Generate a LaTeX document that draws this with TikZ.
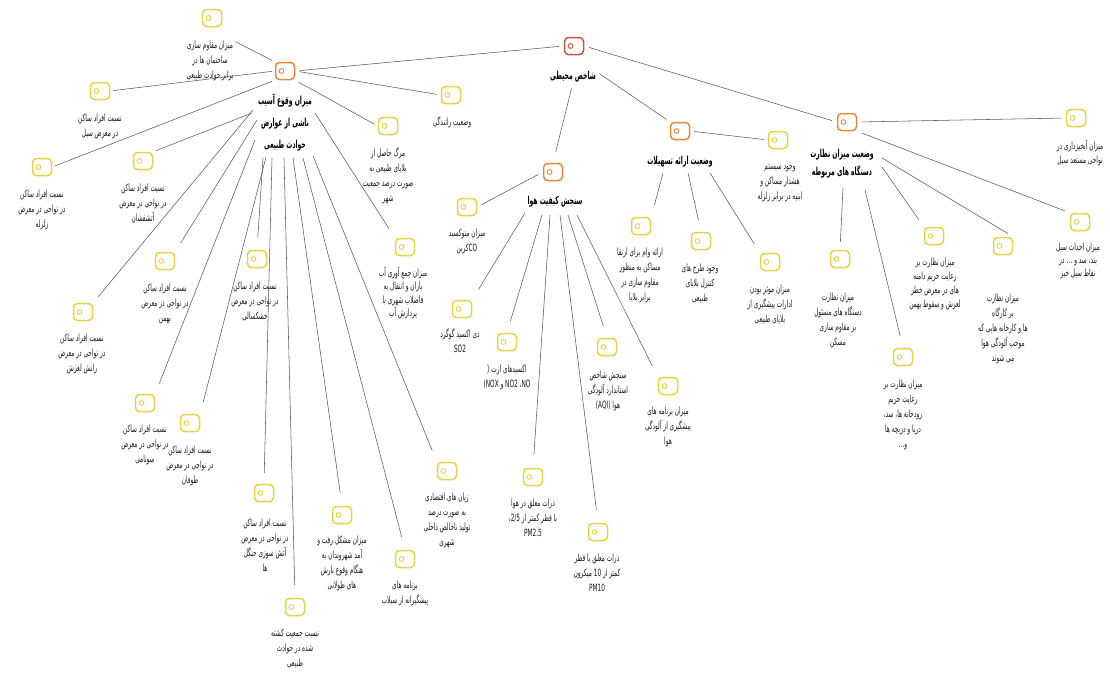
\documentclass[tikz,border=0pt]{standalone}
\usepackage{fontspec}
\usetikzlibrary{calc}
\TeXXeTstate=1
\newfontfamily\fa[Script=Arabic,FakeStretch=0.58]{DejaVu Sans}
\newfontfamily\fab[Script=Arabic,FakeStretch=0.55]{DejaVu Sans Bold}
\newcommand\fal[1]{\beginR #1\endR}
\definecolor{leafc}{HTML}{E6D24A}
\definecolor{midc}{HTML}{E2893C}
\definecolor{rootc}{HTML}{C95646}
\definecolor{linec}{HTML}{5A5A5A}
\definecolor{txtc}{HTML}{1A1A1A}
\tikzset{
  icon/.style={draw=#1, line width=1.5pt, rounded corners=4pt, minimum width=19pt, minimum height=17pt, inner sep=0pt,
    path picture={\draw[#1, line width=0.9pt] ([xshift=6pt]path picture bounding box.west) circle (2.4pt);}},
  leaf/.style={icon=leafc},
  mid/.style={icon=midc},
  top/.style={icon=rootc},
  txt/.style={font=\fa\fontsize{10}{15}\selectfont, align=center, inner sep=0pt, text=txtc},
  head/.style={font=\fab\fontsize{11}{22}\selectfont, align=center, inner sep=0pt, text=black},
  con/.style={draw=linec, line width=0.55pt},
}
\begin{document}
\begin{tikzpicture}[x=1pt,y=-1pt]
\fill[white] (0,0) rectangle (1110,672);
\useasboundingbox (0,0) rectangle (1110,672);

% ---- icons ----
\node[top] (root) at (574,46) {};
\node[mid] (A) at (285,71) {};
\node[mid] (B) at (680,131) {};
\node[mid] (C) at (847,122) {};
\node[mid] (D) at (553,172) {};
\node[leaf] (a1) at (212,18) {};
\node[leaf] (a2) at (100,91) {};
\node[leaf] (a3) at (42,167) {};
\node[leaf] (a4) at (143,161) {};
\node[leaf] (a5) at (165,261) {};
\node[leaf] (a6) at (83,312) {};
\node[leaf] (a7) at (257,259) {};
\node[leaf] (a8) at (145,403) {};
\node[leaf] (a9) at (190,423) {};
\node[leaf] (a10) at (264,493) {};
\node[leaf] (a11) at (295,607) {};
\node[leaf] (a12) at (342,515) {};
\node[leaf] (a13) at (405,559) {};
\node[leaf] (a14) at (447,471) {};
\node[leaf] (a15) at (405,247) {};
\node[leaf] (a16) at (388,126) {};
\node[leaf] (a17) at (451,95) {};
\node[leaf] (d1) at (467,207) {};
\node[leaf] (d2) at (462,309) {};
\node[leaf] (d3) at (507,342) {};
\node[leaf] (d4) at (533,477) {};
\node[leaf] (d5) at (598,532) {};
\node[leaf] (d6) at (607,347) {};
\node[leaf] (d7) at (668,386) {};
\node[leaf] (b1) at (778,140) {};
\node[leaf] (b2) at (641,226) {};
\node[leaf] (b3) at (701,241) {};
\node[leaf] (b4) at (770,262) {};
\node[leaf] (c1) at (1076,118) {};
\node[leaf] (c2) at (1080,222) {};
\node[leaf] (c3) at (1003,246) {};
\node[leaf] (c4) at (934,236) {};
\node[leaf] (c5) at (840,259) {};
\node[leaf] (c6) at (903,357) {};

% ---- headings ----
\node[head] (rootT) at (573,77) {\fal{شاخص محیطی}};
\node[head] (At) at (285,122.5) {\fal{میزان وقوع آسیب}\\\fal{ناشی از عوارض}\\\fal{حوادث طبیعی}};
\node[head] (Bt) at (680,162) {\fal{وضعیت ارائه تسهیلات}};
\node[head, font=\fab\fontsize{11}{18}\selectfont] (Ct) at (842,164) {\fal{وضعیت میزان نظارت}\\\fal{دستگاه های مربوطه}};
\node[head] (Dt) at (555,202) {\fal{سنجش کیفیت هوا}};

% ---- leaf texts ----
\node[txt] (a1t) at (210,61) {\fal{میزان مقاوم سازی}\\\fal{ساختمان ها در}\\\fal{برابر حوادث طبیعی}};
\node[txt] (a2t) at (100,126) {\fal{نسبت افراد ساکن}\\\fal{در معرض سیل}};
\node[txt] (a3t) at (42,210) {\fal{نسبت افراد ساکن}\\\fal{در نواحی در معرض}\\\fal{زلزله}};
\node[txt] (a4t) at (143,204) {\fal{نسبت افراد ساکن}\\\fal{در نواحی در معرض}\\\fal{آتشفشان}};
\node[txt] (a5t) at (165,304) {\fal{نسبت افراد ساکن}\\\fal{در نواحی در معرض}\\\fal{بهمن}};
\node[txt] (a6t) at (82,354) {\fal{نسبت افراد ساکن}\\\fal{در نواحی در معرض}\\\fal{رانش لغزش}};
\node[txt] (a7t) at (255,301) {\fal{نسبت افراد ساکن}\\\fal{در نواحی در معرض}\\\fal{خشکسالی}};
\node[txt] (a8t) at (145,445) {\fal{نسبت افراد ساکن}\\\fal{در نواحی در معرض}\\\fal{سونامی}};
\node[txt] (a9t) at (190,466) {\fal{نسبت افراد ساکن}\\\fal{در نواحی در معرض}\\\fal{طوفان}};
\node[txt] (a10t) at (265,545) {\fal{نسبت افراد ساکن}\\\fal{در نواحی در معرض}\\\fal{آتش سوزی جنگل}\\\fal{ها}};
\node[txt] (a11t) at (295,648) {\fal{نسبت جمعیت کشته}\\\fal{شده در حوادث}\\\fal{طبیعی}};
\node[txt] (a12t) at (342,563) {\fal{میزان مشکل رفت و}\\\fal{آمد شهروندان به}\\\fal{هنگام وقوع بارش}\\\fal{های طولانی}};
\node[txt] (a13t) at (405,593) {\fal{برنامه های}\\\fal{پیشگیرانه از سیلاب}};
\node[txt] (a14t) at (447,520) {\fal{زیان های اقتصادی}\\\fal{به صورت درصد}\\\fal{تولید ناخالص داخلی}\\\fal{شهری}};
\node[txt, font=\fa\fontsize{10}{13.5}\selectfont] (a15t) at (403,293) {\fal{میزان جمع آوری آب}\\\fal{باران و انتقال به}\\\fal{فاضلاب شهری با}\\\fal{پردازش آب}};
\node[txt] (a16t) at (388,176) {\fal{مرگ حاصل از}\\\fal{بلایای طبیعی به}\\\fal{صورت درصد جمعیت}\\\fal{شهر}};
\node[txt] (a17t) at (452,122) {\fal{وضعیت رانندگی}};

\node[txt] (d1t) at (467,241) {\fal{میزان منوکسید}\\\fal{\beginL CO\endL کربن}};
\node[txt] (d2t) at (460,341) {\fal{دی اکسید گوگرد}\\SO2};
\node[txt] (d3t) at (507,377) {\fal{اکسیدهای ازت (}\\\fal{\beginL NO\endL، \beginL NO2\endL{} و \beginL NOX\endL)}};
\node[txt] (d4t) at (533,518) {\fal{ذرات معلق در هوا}\\\fal{با قطر کمتر از \beginL 2/5\endL،}\\PM2.5};
\node[txt] (d5t) at (597,573) {\fal{ذرات معلق با قطر}\\\fal{کمتر از \beginL 10\endL{} میکرون}\\PM10};
\node[txt] (d6t) at (608,391) {\fal{سنجش شاخص}\\\fal{استاندارد آلودگی}\\\fal{هوا (\beginL AQI\endL)}};
\node[txt] (d7t) at (668,427) {\fal{میزان برنامه های}\\\fal{پیشگیری از آلودگی}\\\fal{هوا}};

\node[txt] (b1t) at (780,183) {\fal{وجود سیستم}\\\fal{هشدار مساکن و}\\\fal{ابنیه در برابر زلزله}};
\node[txt] (b2t) at (640,275) {\fal{ارائه وام برای ارتقا}\\\fal{مساکن به منظور}\\\fal{مقاوم سازی در}\\\fal{برابر بلایا}};
\node[txt] (b3t) at (700,283) {\fal{وجود طرح های}\\\fal{کنترل بلایای}\\\fal{طبیعی}};
\node[txt] (b4t) at (770,304) {\fal{میزان موثر بودن}\\\fal{ادارات پیشگیری از}\\\fal{بلایای طبیعی}};

\node[txt, font=\fa\fontsize{10}{13.5}\selectfont] (c1t) at (1080,153) {\fal{میزان آبخیزداری در}\\\fal{نواحی مستعد سیل}};
\node[txt, font=\fa\fontsize{10}{13}\selectfont] (c2t) at (1078,261) {\fal{میزان احداث سیل}\\\fal{بند، سد و ... در}\\\fal{نقاط سیل خیز}};
\node[txt] (c3t) at (1003,329) {\fal{میزان نظارت}\\\fal{بر کارگاه}\\\fal{ها و کارخانه هایی که}\\\fal{موجب آلودگی هوا}\\\fal{می شوند}};
\node[txt, font=\fa\fontsize{10}{14}\selectfont] (c4t) at (935,284) {\fal{میزان نظارت بر}\\\fal{رعایت حریم دامنه}\\\fal{های در معرض خطر}\\\fal{لغزش و سقوط بهمن}};
\node[txt] (c5t) at (838,320) {\fal{میزان نظارت}\\\fal{دستگاه های مسئول}\\\fal{بر مقاوم سازی}\\\fal{مسکن}};
\node[txt] (c6t) at (903,415) {\fal{میزان نظارت بر}\\\fal{رعایت حریم}\\\fal{رودخانه ها، سد،}\\\fal{دریا و دریچه ها}\\\fal{و...}};

% ---- connectors: root ----
\draw[con, shorten <=5pt, shorten >=5pt] (root.west) -- (A.east);
\draw[con, shorten <=5pt, shorten >=5pt] (root.east) -- (C.west);
\draw[con, shorten <=6pt, shorten >=11pt] (rootT.south) -- (D.north);
\draw[con, shorten <=4pt, shorten >=4pt] (rootT.north east) -- (B.north west);

% ---- connectors: A ----
\draw[con, shorten <=2pt, shorten >=3pt] (a1t.north east) -- (A.north west);
\draw[con, shorten <=3pt, shorten >=3pt] (a2.east) -- (A.west);
\draw[con, shorten <=3pt, shorten >=3pt] (a3.east) -- (A.south west);
\draw[con, shorten <=4pt, shorten >=4pt] (A.south east) -- (a16.west);
\draw[con, shorten <=4pt, shorten >=4pt] (A.east) -- (a17.west);
\draw[con, shorten >=3pt] ($(At)+(-33,-9.5)$) -- (a4.north east);
\draw[con, shorten >=8pt] ($(At)+(-32,-12.5)$) -- (a6.north east);
\draw[con, shorten >=10pt] ($(At)+(-28,-2.5)$) -- (a5.north east);
\draw[con, shorten >=11pt] ($(At)+(-30,17.5)$) -- (a8.north east);
\draw[con, shorten >=12pt] ($(At)+(-19,34.5)$) -- (a9.north east);
\draw[con, shorten >=12pt] ($(At)+(-22,35.5)$) -- (a7.north);
\draw[con, shorten >=11pt] ($(At)+(-13,35.5)$) -- (a10.north);
\draw[con, shorten >=13pt] ($(At)+(-1,35.5)$) -- (a11.north);
\draw[con, shorten >=13pt] ($(At)+(8,35.5)$) -- (a12.north);
\draw[con, shorten >=13pt] ($(At)+(18,35.5)$) -- (a13.north);
\draw[con, shorten >=12pt] ($(At)+(28,33.5)$) -- (a14.north west);
\draw[con, shorten >=11pt] ($(At)+(30,-9.5)$) -- (a15.north west);

% ---- connectors: D ----
\draw[con, shorten <=5pt, shorten >=5pt] (D.west) -- (d1.east);
\draw[con, shorten >=12pt] ($(Dt)+(-30,11)$) -- (d2.north east);
\draw[con, shorten >=12pt] ($(Dt)+(-13,13)$) -- (d3.north);
\draw[con, shorten >=13pt] ($(Dt)+(-5,13)$) -- (d4.north);
\draw[con, shorten >=13pt] ($(Dt)+(5,13)$) -- (d5.north);
\draw[con, shorten >=12pt] ($(Dt)+(13,13)$) -- (d6.north);
\draw[con, shorten >=12pt] ($(Dt)+(22,13)$) -- (d7.north west);

% ---- connectors: B ----
\draw[con, shorten <=4pt, shorten >=4pt] (B.east) -- (b1.west);
\draw[con, shorten >=12pt] ($(Bt)+(-17,11)$) -- (b2.north east);
\draw[con, shorten >=12pt] ($(Bt)+(8,11)$) -- (b3.north);
\draw[con, shorten >=10pt] ($(Bt)+(30,11)$) -- (b4.north west);

% ---- connectors: C ----
\draw[con, shorten <=5pt, shorten >=4pt] (C.east) -- (c1.west);
\draw[con, shorten <=5pt, shorten >=5pt] (C.south east) -- (c2.north west);
\draw[con, shorten >=6pt] ($(Ct)+(40,-6)$) -- (c3.north east);
\draw[con, shorten >=8pt] ($(Ct)+(40,3)$) -- (c4.north west);
\draw[con, shorten >=8pt] ($(Ct)+(1,24)$) -- (c5.north);
\draw[con, shorten >=12pt] ($(Ct)+(23,26)$) -- (c6.north);
\end{tikzpicture}
\end{document}
